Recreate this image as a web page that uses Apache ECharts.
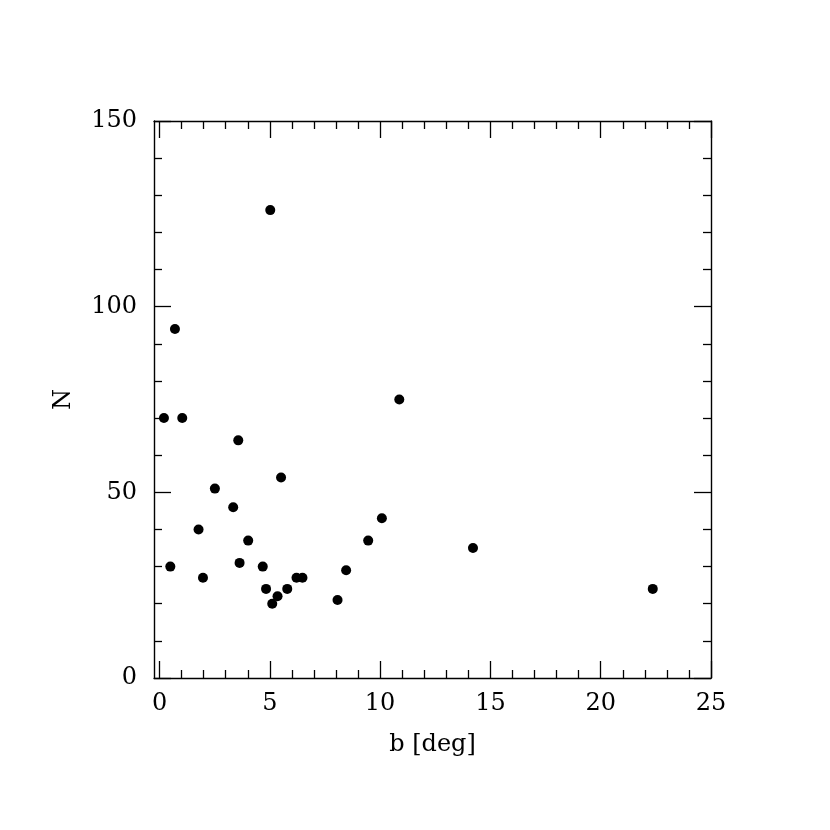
<!DOCTYPE html>
<html>
<head>
<meta charset="utf-8">
<script src="https://cdn.jsdelivr.net/npm/echarts@6/dist/echarts.min.js"></script>
<style>html,body{margin:0;padding:0;background:#fff;}#c{width:830px;height:830px;}</style>
</head>
<body>
<div id="c"></div>
<script>
var bValues = [5.02, 0.70, 0.20, 1.03, 3.57, 5.51, 2.51, 3.34, 1.77, 4.02, 0.49, 3.63, 1.97, 4.68, 4.83, 5.11, 5.35, 5.79, 6.21, 6.48, 8.07, 8.46, 9.46, 10.08, 10.87, 14.21, 22.36];
var nValues = [126, 94, 70, 70, 64, 54, 51, 46, 40, 37, 30, 31, 27, 30, 24, 20, 22, 24, 27, 27, 21, 29, 37, 43, 75, 35, 24];
var xMajorTicks = [0, 5, 10, 15, 20, 25];
var xMinorTicks = [1, 2, 3, 4, 6, 7, 8, 9, 11, 12, 13, 14, 16, 17, 18, 19, 21, 22, 23, 24];
var yMajorTicks = [0, 50, 100, 150];
var yMinorTicks = [10, 20, 30, 40, 60, 70, 80, 90, 110, 120, 130, 140];
var xTitle = 'b [deg]';
var yTitle = 'N';

var FONT = 'DejaVu Serif';
var INK = '#000';
var XMIN = -0.25, XMAX = 25, YMIN = 0, YMAX = 150;

function xAx(pos, major, showLine, showLabel) {
  var a = {
    type: 'value', position: pos, min: XMIN, max: XMAX, offset: 0,
    splitLine: {show: false},
    axisLine: {show: showLine, onZero: false, lineStyle: {color: INK, width: 1.4}},
    axisTick: {show: true, inside: true, length: major ? 17 : 8, customValues: major ? xMajorTicks : xMinorTicks,
               lineStyle: {color: INK, width: 1.3}},
    axisLabel: {show: showLabel, customValues: xMajorTicks, margin: 14, color: INK, fontFamily: FONT, fontSize: 24}
  };
  if (showLabel) {
    a.name = xTitle; a.nameLocation = 'middle'; a.nameGap = 55;
    a.nameTextStyle = {color: INK, fontFamily: FONT, fontSize: 24};
  }
  return a;
}
function yAx(pos, major, showLine, showLabel) {
  var a = {
    type: 'value', position: pos, min: YMIN, max: YMAX, offset: 0,
    splitLine: {show: false},
    axisLine: {show: showLine, onZero: false, lineStyle: {color: INK, width: 1.4}},
    axisTick: {show: true, inside: true, length: major ? 17 : 8, customValues: major ? yMajorTicks : yMinorTicks,
               lineStyle: {color: INK, width: 1.3}},
    axisLabel: {show: showLabel, customValues: yMajorTicks, margin: 17, color: INK, fontFamily: FONT, fontSize: 24}
  };
  if (showLabel) {
    a.name = yTitle; a.nameLocation = 'middle'; a.nameGap = 78;
    a.nameTextStyle = {color: INK, fontFamily: FONT, fontSize: 24};
  }
  return a;
}

var pts = bValues.map(function (b, i) { return [b, nValues[i]]; });

var chart = echarts.init(document.getElementById('c'), null, {renderer: 'canvas'});
chart.setOption({
  animation: false,
  backgroundColor: '#fff',
  grid: {left: 154, right: 119, top: 121, bottom: 152, containLabel: false},
  xAxis: [xAx('bottom', true, true, true), xAx('bottom', false, false, false),
          xAx('top', true, true, false), xAx('top', false, false, false)],
  yAxis: [yAx('left', true, true, true), yAx('left', false, false, false),
          yAx('right', true, true, false), yAx('right', false, false, false)],
  series: [{
    type: 'scatter', xAxisIndex: 0, yAxisIndex: 0,
    data: pts, symbol: 'circle', symbolSize: 10,
    itemStyle: {color: INK, opacity: 1},
    emphasis: {disabled: true}
  }]
});
</script>
</body>
</html>
